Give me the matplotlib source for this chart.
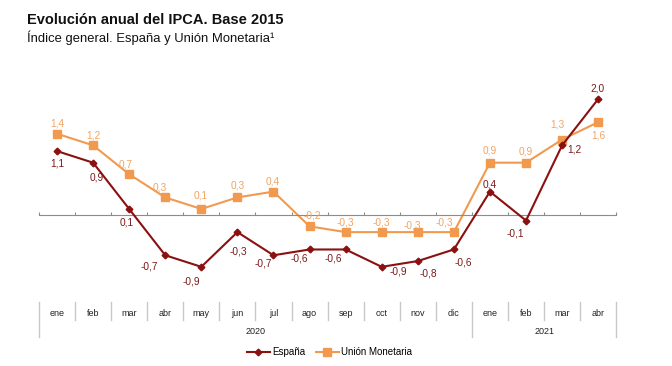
import matplotlib.pyplot as plt
from matplotlib import transforms

plt.rcParams['font.family'] = ['Liberation Sans', 'DejaVu Sans']

# data
meses = ['ene', 'feb', 'mar', 'abr', 'may', 'jun', 'jul', 'ago', 'sep', 'oct', 'nov', 'dic',
         'ene', 'feb', 'mar', 'abr']
anios = ['2020', '2021']
meses_por_anio = [12, 4]
espana = [1.1, 0.9, 0.1, -0.7, -0.9, -0.3, -0.7, -0.6, -0.6, -0.9, -0.8, -0.6, 0.4, -0.1, 1.2, 2.0]
union_monetaria = [1.4, 1.2, 0.7, 0.3, 0.1, 0.3, 0.4, -0.2, -0.3, -0.3, -0.3, -0.3, 0.9, 0.9, 1.3, 1.6]

# label offsets in pixels (dx, dy)
off_es = [(0, -12), (4, -15), (-2, -14), (-16, -11), (-10, -15), (1, -19), (-10, -8), (-10, -9),
          (-12, -9), (17, -5), (11, -12), (9, -13), (0, 7), (-11, -13), (12, -4), (-1, 11)]
off_um = [(0, 10), (0, 10), (-3, 10), (-5, 10), (-1, 13), (0, 12), (-1, 10), (3, 11),
          (0, 10), (0, 10), (-5, 7), (-10, 10), (0, 12), (0, 11), (-5, 15), (0, -13)]

c_es = '#8b1010'
c_um = '#f19a4f'

fig = plt.figure(figsize=(6.72, 3.66), dpi=100)
ax = fig.add_axes([0.058, 0.2077, 0.859, 0.5533])

x = list(range(len(meses)))
ax.plot(x, espana, color=c_es, lw=1.5, marker='D', ms=3.4, label='España', zorder=3)
ax.plot(x, union_monetaria, color=c_um, lw=1.5, marker='s', ms=5.5, label='Unión Monetaria', zorder=2)

for i, v in enumerate(espana):
    ax.annotate(f'{v:.1f}'.replace('.', ','), (i, v), xytext=off_es[i], textcoords='offset pixels',
                ha='center', va='center', fontsize=7.3, color='#7a1a1a')
for i, v in enumerate(union_monetaria):
    ax.annotate(f'{v:.1f}'.replace('.', ','), (i, v), xytext=off_um[i], textcoords='offset pixels',
                ha='center', va='center', fontsize=7.3, color='#f2a463')

ax.set_xlim(-0.5, len(meses) - 0.5)
ax.set_ylim(-1.3, 2.2)
for s in ['top', 'right', 'left']:
    ax.spines[s].set_visible(False)
ax.spines['bottom'].set_position(('data', 0))
ax.spines['bottom'].set_color('#8c8c8c')
ax.set_yticks([])
ax.set_xticks([i - 0.5 for i in range(len(meses) + 1)])
ax.set_xticklabels([])
ax.tick_params(axis='x', direction='in', length=2, color='#8c8c8c')

# category table below the plot
H = 366.0
tr = transforms.blended_transform_factory(ax.transData, fig.transFigure)
y_top = 1 - 302 / H
y_mid = 1 - 320 / H
y_bot = 1 - 337 / H
for i, m in enumerate(meses):
    ax.text(i, 1 - 314 / H, m, transform=tr, ha='center', va='center', fontsize=6.5, color='#222222')
starts = [0]
for n in meses_por_anio:
    starts.append(starts[-1] + n)
for b in range(len(meses) + 1):
    bx = b - 0.5
    if b in starts:
        ax.plot([bx, bx], [y_top, y_bot], transform=tr, color='#c8c8c8', lw=1.0, clip_on=False)
    else:
        ax.plot([bx, bx], [y_top, y_mid], transform=tr, color='#c8c8c8', lw=1.0, clip_on=False)
for k, a in enumerate(anios):
    cx = (starts[k] + starts[k + 1] - 1) / 2
    ax.text(cx, 1 - 331 / H, a, transform=tr, ha='center', va='center', fontsize=6.5, color='#222222')

fig.legend(loc='center', bbox_to_anchor=(0.49, 1 - 352 / H), ncol=2, frameon=False, fontsize=7,
           handlelength=2.4, columnspacing=1.1, handletextpad=0.2)

fig.text(0.04, 1 - 20 / H, 'Evolución anual del IPCA. Base 2015', fontsize=10.5, fontweight='bold',
         va='center', color='#111111')
fig.text(0.04, 1 - 38 / H, 'Índice general. España y Unión Monetaria\u00b9', fontsize=9.4,
         va='center', color='#111111')

fig.savefig('out.png', dpi=100)
